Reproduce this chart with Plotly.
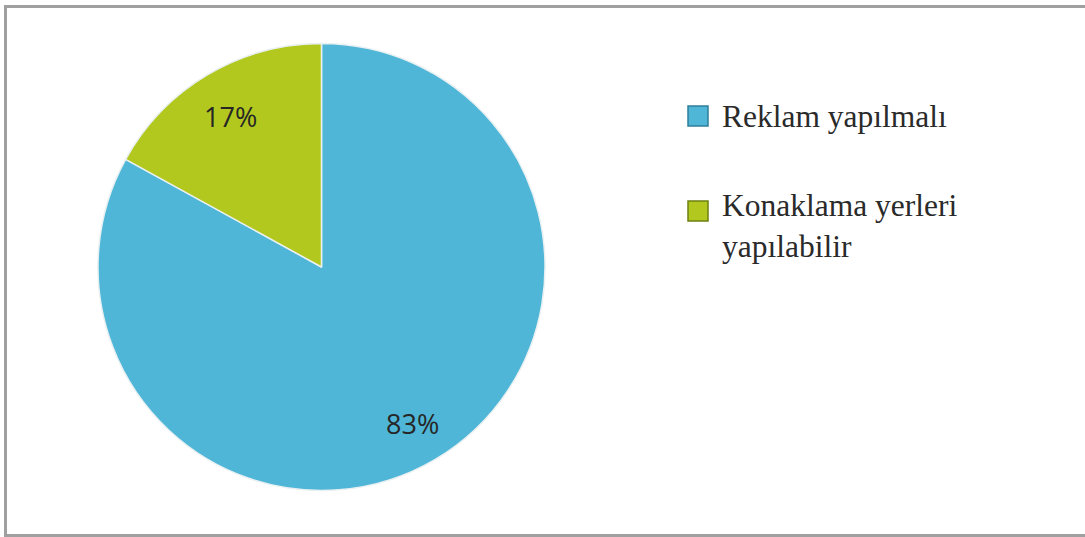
import math
import plotly.graph_objects as go

# data
categorias = ["Reklam yapılmalı", "Konaklama yerleri<br>yapılabilir"]
valores = [83, 17]
cores = ["#4FB6D7", "#B3C81F"]
bordas = ["#2F7F99", "#6E8012"]

W, H = 1085, 537
cx_px, cy_px, r_px = 321.5, 267, 223.5


def px(x):
    return x / W


def py(y):
    return 1 - y / H


fig = go.Figure(go.Pie(
    labels=[c.replace("<br>", " ") for c in categorias],
    values=valores,
    sort=False,
    direction="clockwise",
    rotation=0,
    marker=dict(colors=cores, line=dict(color="#E8F0F2", width=1.5)),
    textinfo="none",
    hoverinfo="label+percent",
    showlegend=False,
    domain=dict(x=[px(cx_px - r_px), px(cx_px + r_px)],
                y=[py(cy_px + r_px), py(cy_px - r_px)]),
))

# percentage labels placed along each slice's middle angle
total = sum(valores)
acumulado = 0
for v in valores:
    meio = (acumulado + v / 2) / total * 2 * math.pi
    acumulado += v
    lx = cx_px + 0.80 * r_px * math.sin(meio)
    ly = cy_px - 0.80 * r_px * math.cos(meio) + 3
    fig.add_annotation(x=px(lx), y=py(ly),
                       xref="paper", yref="paper", showarrow=False,
                       xanchor="center", yanchor="middle",
                       text=f"{round(v / total * 100)}%",
                       font=dict(family="Open Sans", size=27, color="#262626"))

# legend drawn by hand: square marker + text block
topo, passo_item, passo_linha = 106, 95, 31
for i, (nome, cor, borda) in enumerate(zip(categorias, cores, bordas)):
    y0 = topo + i * passo_item
    fig.add_shape(type="rect", xref="paper", yref="paper",
                  x0=px(688), x1=px(708), y0=py(y0 + 20), y1=py(y0),
                  fillcolor=cor, line=dict(color=borda, width=1.5))
    n_linhas = len(nome.split("<br>"))
    fig.add_annotation(x=px(720), y=py(y0 + 10 + (n_linhas - 1) * passo_linha / 2),
                       xref="paper", yref="paper", showarrow=False,
                       xanchor="left", yanchor="middle", align="left",
                       text=nome,
                       font=dict(family="Liberation Serif", size=31.5,
                                 color="#2A2A2A"))

# outer gray frame
fig.add_shape(type="rect", xref="paper", yref="paper",
              x0=px(5.5), x1=1.02, y0=py(535.5), y1=py(6.5),
              line=dict(color="#A0A0A0", width=3))

fig.update_layout(
    width=W, height=H,
    margin=dict(l=0, r=0, t=0, b=0),
    paper_bgcolor="white",
    plot_bgcolor="white",
)

fig.write_html("out.html", config={"displayModeBar": False},
               post_script="document.body.style.margin='0';")
